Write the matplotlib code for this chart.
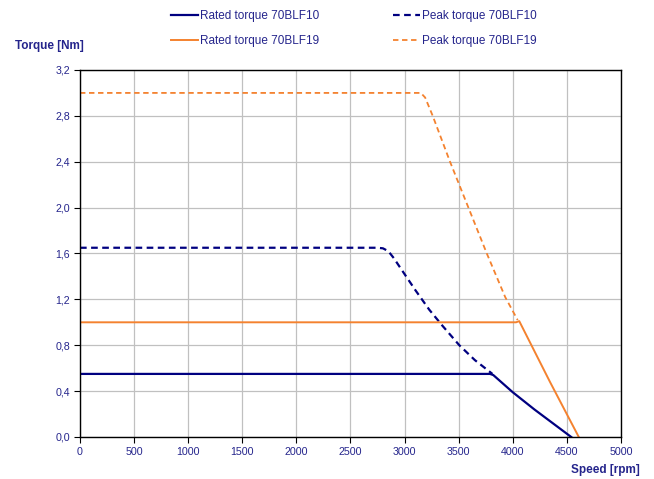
import matplotlib
matplotlib.use("Agg")
import matplotlib.pyplot as plt
from matplotlib.ticker import FuncFormatter

plt.rcParams['font.family'] = ['Liberation Sans', 'DejaVu Sans']

# Data (speed in rpm, torque in Nm)
rated10_speed = [0, 3700, 3790, 3820, 4000, 4200, 4540]
rated10_torque = [0.55, 0.55, 0.55, 0.54, 0.39, 0.24, 0.0]

peak10_speed = [0, 2750, 2800, 2850, 2900, 3000, 3100, 3228, 3350, 3506, 3650, 3812]
peak10_torque = [1.65, 1.65, 1.645, 1.62, 1.56, 1.42, 1.28, 1.11, 0.97, 0.80, 0.67, 0.55]

rated19_speed = [0, 4030, 4060, 4344, 4610]
rated19_torque = [1.0, 1.0, 1.01, 0.48, 0.0]

peak19_speed = [0, 3150, 3190, 3260, 3420, 3590, 3760, 3930, 4045]
peak19_torque = [3.0, 3.0, 2.96, 2.80, 2.40, 2.00, 1.60, 1.22, 1.02]

x_ticks = [0, 500, 1000, 1500, 2000, 2500, 3000, 3500, 4000, 4500, 5000]
y_ticks = [0.0, 0.4, 0.8, 1.2, 1.6, 2.0, 2.4, 2.8, 3.2]

labels = ["Rated torque 70BLF10", "Peak torque 70BLF10",
          "Rated torque 70BLF19", "Peak torque 70BLF19"]

NAVY = "#000080"
ORANGE = "#F4822F"
TXT = "#25258C"

fig = plt.figure(figsize=(6.54, 4.79), dpi=100)
ax = fig.add_axes([0.1223, 0.0877, 0.8272, 0.7662])

l1, = ax.plot(rated10_speed, rated10_torque, color=NAVY, lw=1.6)
l2, = ax.plot(peak10_speed, peak10_torque, color=NAVY, lw=1.6, ls=(0, (3, 2)))
l3, = ax.plot(rated19_speed, rated19_torque, color=ORANGE, lw=1.4)
l4, = ax.plot(peak19_speed, peak19_torque, color=ORANGE, lw=1.3, ls=(0, (3, 2)))

ax.set_xlim(0, 5000)
ax.set_ylim(0, 3.2)
ax.set_xticks(x_ticks)
ax.set_yticks(y_ticks)
ax.yaxis.set_major_formatter(FuncFormatter(lambda v, p: f"{v:.1f}".replace(".", ",")))
ax.xaxis.set_major_formatter(FuncFormatter(lambda v, p: f"{int(round(v))}"))
ax.grid(True, color="#C0C0C0", lw=0.9)
ax.set_axisbelow(True)
for s in ax.spines.values():
    s.set_color("black")
    s.set_linewidth(1.0)
ax.tick_params(axis='both', labelsize=7.7, labelcolor=TXT, color="black",
               length=4, width=0.8, direction='out', pad=3)

fig.text(0.023, 0.905, "Torque [Nm]", fontsize=8.5, fontweight='bold', color=TXT,
         ha='left', va='center')
fig.text(0.978, 0.018, "Speed [rpm]", fontsize=8.5, fontweight='bold', color=TXT,
         ha='right', va='center')

fig.legend([l1, l3, l2, l4], [labels[0], labels[2], labels[1], labels[3]],
           ncol=2, loc='upper left', bbox_to_anchor=(0.245, 1.002), frameon=False,
           fontsize=8.5, labelcolor=TXT, handlelength=2.3, handletextpad=0.2,
           columnspacing=6.2, labelspacing=1.1)

fig.savefig("out.png", dpi=100)
